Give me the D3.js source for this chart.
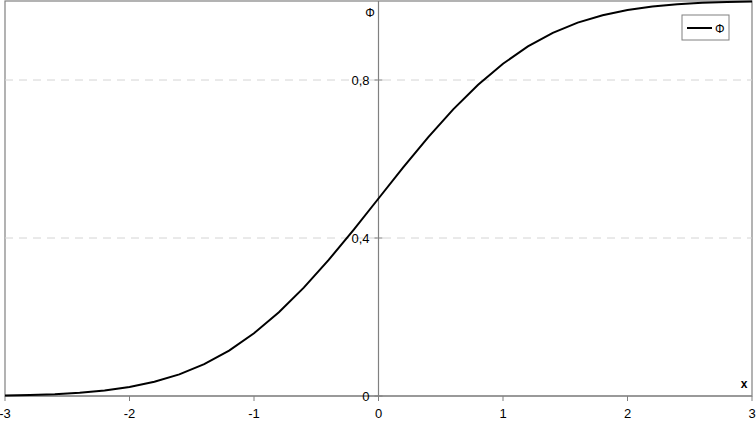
<!DOCTYPE html>
<html>
<head>
<meta charset="utf-8">
<script src="https://cdn.jsdelivr.net/npm/d3@7"></script>
<style>
  body { margin: 0; background: #fff; }
  svg { display: block; font-family: "Liberation Sans", Arial, sans-serif; }
</style>
</head>
<body>
<svg></svg>
<script>
// x values and Phi values
var xs = [-3, -2.8, -2.6, -2.4, -2.2, -2, -1.8, -1.6, -1.4, -1.2, -1, -0.8, -0.6, -0.4, -0.2,
          0, 0.2, 0.4, 0.6, 0.8, 1, 1.2, 1.4, 1.6, 1.8, 2, 2.2, 2.4, 2.6, 2.8, 3];
var phi = [0.0013, 0.0026, 0.0047, 0.0082, 0.0139, 0.0228, 0.0359, 0.0548, 0.0808, 0.1151, 0.1587,
           0.2119, 0.2743, 0.3446, 0.4207, 0.5, 0.5793, 0.6554, 0.7257, 0.7881, 0.8413,
           0.8849, 0.9192, 0.9452, 0.9641, 0.9772, 0.9861, 0.9918, 0.9953, 0.9974, 0.9987];
var xTicks = [-3, -2, -1, 0, 1, 2, 3];
var yTicks = [0, 0.4, 0.8];
var seriesName = "\u03a6";

var width = 756, height = 422;
var svg = d3.select("svg").attr("width", width).attr("height", height);

// plot area edges ("top" is taken by window.top, so use other names)
var pLeft = 5, pRight = 752, pTop = 1, pBottom = 396;

var x = d3.scaleLinear().domain([-3, 3]).range([pLeft, pRight]);
var y = d3.scaleLinear().domain([0, 1]).range([pBottom, pTop]);

var fmt = function(d) { return String(d).replace(".", ","); };

// plot area border
svg.append("rect")
    .attr("x", pLeft).attr("y", pTop)
    .attr("width", pRight - pLeft).attr("height", pBottom - pTop)
    .attr("fill", "none").attr("stroke", "#808080").attr("stroke-width", 1.2);

// dashed gridlines
svg.append("g").selectAll("line")
    .data(yTicks.filter(function(d) { return d > 0; }))
    .enter().append("line")
      .attr("x1", pLeft).attr("x2", pRight)
      .attr("y1", function(d) { return y(d); })
      .attr("y2", function(d) { return y(d); })
      .attr("stroke", "#d4d4d4")
      .attr("stroke-dasharray", "8,6");

// x axis line and ticks
svg.append("line")
    .attr("x1", pLeft).attr("x2", pRight)
    .attr("y1", y(0)).attr("y2", y(0))
    .attr("stroke", "#808080").attr("stroke-width", 1.2);

svg.append("g").selectAll("line")
    .data(xTicks)
    .enter().append("line")
      .attr("x1", function(d) { return x(d); })
      .attr("x2", function(d) { return x(d); })
      .attr("y1", y(0)).attr("y2", y(0) + 5)
      .attr("stroke", "#808080");

svg.append("g").selectAll("text")
    .data(xTicks)
    .enter().append("text")
      .attr("x", function(d) { return x(d); })
      .attr("y", y(0) + 22)
      .attr("text-anchor", "middle")
      .attr("font-size", 13)
      .text(function(d) { return fmt(d); });

// y axis at x = 0
svg.append("line")
    .attr("x1", x(0)).attr("x2", x(0))
    .attr("y1", pTop).attr("y2", pBottom)
    .attr("stroke", "#808080").attr("stroke-width", 1.2);

svg.append("g").selectAll("line")
    .data(yTicks)
    .enter().append("line")
      .attr("x1", x(0) - 4).attr("x2", x(0) + 4)
      .attr("y1", function(d) { return y(d); })
      .attr("y2", function(d) { return y(d); })
      .attr("stroke", "#808080");

svg.append("g").selectAll("text")
    .data(yTicks)
    .enter().append("text")
      .attr("x", x(0) - 9)
      .attr("y", function(d) { return y(d) + 5; })
      .attr("text-anchor", "end")
      .attr("font-size", 13)
      .text(function(d) { return fmt(d); });

// axis titles
svg.append("text")
    .attr("x", 370).attr("y", 17)
    .attr("text-anchor", "middle")
    .attr("font-size", 12)
    .text(seriesName);

svg.append("text")
    .attr("x", 744).attr("y", 388)
    .attr("text-anchor", "middle")
    .attr("font-size", 12)
    .attr("font-weight", "bold")
    .text("x");

// curve
var line = d3.line()
    .x(function(d, i) { return x(xs[i]); })
    .y(function(d) { return y(d); });

svg.append("path")
    .datum(phi)
    .attr("d", line)
    .attr("fill", "none")
    .attr("stroke", "#000")
    .attr("stroke-width", 2);

// legend
var lg = svg.append("g").attr("transform", "translate(682,15)");
lg.append("rect")
    .attr("width", 47).attr("height", 25)
    .attr("fill", "#fff").attr("stroke", "#808080");
lg.append("line")
    .attr("x1", 5).attr("x2", 30)
    .attr("y1", 13).attr("y2", 13)
    .attr("stroke", "#000").attr("stroke-width", 2);
lg.append("text")
    .attr("x", 33).attr("y", 18)
    .attr("font-size", 12)
    .text(seriesName);
</script>
</body>
</html>
